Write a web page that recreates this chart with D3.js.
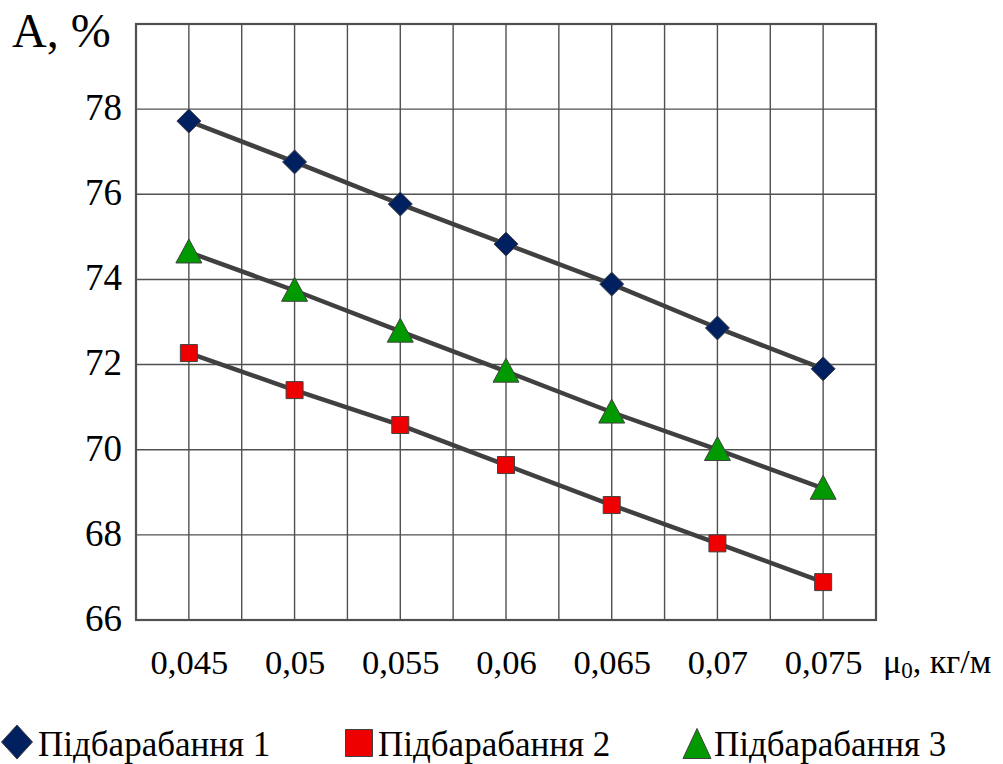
<!DOCTYPE html>
<html><head><meta charset="utf-8">
<script src="https://cdn.jsdelivr.net/npm/d3@7"></script>
</head><body style="margin:0">
<svg id="c" width="1003" height="764"></svg>
<script>
const xValues = [0.045, 0.05, 0.055, 0.06, 0.065, 0.07, 0.075];
const series1 = [77.72, 76.76, 75.77, 74.83, 73.89, 72.86, 71.90];
const series2 = [72.27, 71.40, 70.58, 69.64, 68.70, 67.80, 66.89];
const series3 = [74.64, 73.74, 72.78, 71.84, 70.88, 70.00, 69.09];
const seriesNames = ["Підбарабання 1", "Підбарабання 2", "Підбарабання 3"];
const yTicks = [66, 68, 70, 72, 74, 76, 78];
const xGrid = [0.045, 0.0475, 0.05, 0.0525, 0.055, 0.0575, 0.06, 0.0625, 0.065, 0.0675, 0.07, 0.0725, 0.075];
const xLabels = ["0,045", "0,05", "0,055", "0,06", "0,065", "0,07", "0,075"];

const FONT = "Liberation Serif";
const svg = d3.select("#c");
const L = 136, R = 876, T = 24, B = 620;
const x = d3.scaleLinear().domain([0.0425, 0.0775]).range([L, R]);
const y = d3.scaleLinear().domain([66, 80]).range([B, T]);
const gridColor = "#505050";

// grid
svg.append("g").selectAll("line").data(xGrid).join("line")
  .attr("x1", d => x(d)).attr("x2", d => x(d)).attr("y1", T).attr("y2", B)
  .attr("stroke", gridColor).attr("stroke-width", 1.4);
svg.append("g").selectAll("line").data(yTicks.filter(v => v > 66)).join("line")
  .attr("x1", L).attr("x2", R).attr("y1", d => y(d)).attr("y2", d => y(d))
  .attr("stroke", gridColor).attr("stroke-width", 1.4);
svg.append("rect").attr("x", L).attr("y", T).attr("width", R - L).attr("height", B - T)
  .attr("fill", "none").attr("stroke", gridColor).attr("stroke-width", 2.2);

// y axis labels
const yAxis = d3.axisLeft(y).tickValues(yTicks).tickSize(0).tickPadding(14).tickFormat(d3.format("d"));
const gy = svg.append("g").attr("transform", `translate(${L},0)`).call(yAxis);
gy.attr("font-family", FONT).attr("font-size", 37);
gy.select(".domain").remove();
gy.selectAll("text").attr("font-family", FONT).attr("font-size", 37).attr("dy", "0.28em").attr("fill", "#000");

// x axis labels
const xAxis = d3.axisBottom(x).tickValues(xValues).tickSize(0).tickPadding(30).tickFormat((d, i) => xLabels[i]);
const gx = svg.append("g").attr("transform", `translate(0,${B})`).call(xAxis);
gx.attr("font-family", FONT).attr("font-size", 34.5);
gx.select(".domain").remove();
gx.selectAll("text").attr("font-family", FONT).attr("font-size", 34.5).attr("fill", "#000");

// axis titles
svg.append("text").attr("x", 12).attr("y", 47).attr("font-family", FONT).attr("font-size", 48).text("A, %");
const xt = svg.append("text").attr("x", 883).attr("y", 673).attr("font-family", FONT).attr("font-size", 34);
xt.append("tspan").text("μ");
xt.append("tspan").attr("font-size", 23).attr("dy", 5).text("0");
xt.append("tspan").attr("dy", -5).text(", кг/м");

// lines
const all = [series1, series2, series3];
const line = d3.line().x((d, i) => x(xValues[i])).y(d => y(d));
all.forEach(s => {
  svg.append("path").datum(s).attr("d", line).attr("fill", "none")
    .attr("stroke", "#404040").attr("stroke-width", 4.5);
});

// markers
const colors = ["#002060", "#ee0000", "#009900"];
const symDiamond = (cx, cy, w, h) => `M${cx},${cy - h / 2}L${cx + w / 2},${cy}L${cx},${cy + h / 2}L${cx - w / 2},${cy}Z`;
const symSquare = (cx, cy, s) => `M${cx - s / 2},${cy - s / 2}h${s}v${s}h${-s}Z`;
const symTri = (cx, cy, w, h) => `M${cx},${cy - h * 0.55}L${cx + w / 2},${cy + h * 0.45}L${cx - w / 2},${cy + h * 0.45}Z`;

svg.append("g").selectAll("path").data(series1).join("path")
  .attr("d", (d, i) => symDiamond(x(xValues[i]), y(d), 24, 24))
  .attr("fill", colors[0]).attr("stroke", "#404040").attr("stroke-width", 1);
svg.append("g").selectAll("path").data(series2).join("path")
  .attr("d", (d, i) => symSquare(x(xValues[i]), y(d), 17))
  .attr("fill", colors[1]).attr("stroke", "#404040").attr("stroke-width", 1);
svg.append("g").selectAll("path").data(series3).join("path")
  .attr("d", (d, i) => symTri(x(xValues[i]), y(d), 26, 24))
  .attr("fill", colors[2]).attr("stroke", "#404040").attr("stroke-width", 1);

// legend
const leg = svg.append("g");
leg.append("path").attr("d", symDiamond(17, 742, 31, 34)).attr("fill", colors[0]).attr("stroke", "#404040");
leg.append("path").attr("d", symSquare(359, 743, 27)).attr("fill", colors[1]).attr("stroke", "#404040");
leg.append("path").attr("d", symTri(697, 745, 28, 30)).attr("fill", colors[2]).attr("stroke", "#404040");
const lx = [38, 378, 714];
seriesNames.forEach((n, i) => {
  leg.append("text").attr("x", lx[i]).attr("y", 756).attr("font-family", FONT).attr("font-size", 35).text(n);
});
</script>
</body></html>
